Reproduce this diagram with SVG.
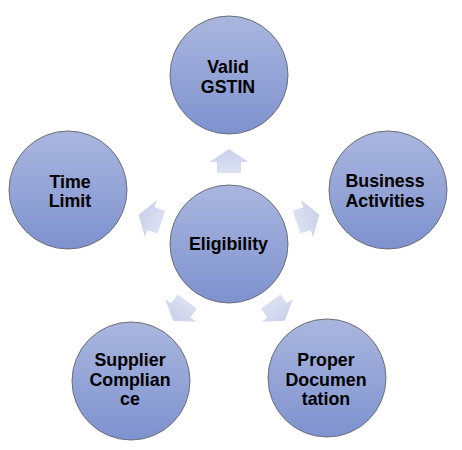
<svg xmlns="http://www.w3.org/2000/svg" width="462" height="450" viewBox="0 0 462 450">
<defs>
<linearGradient id="cg" x1="0" y1="0" x2="0" y2="1">
<stop offset="0" stop-color="#aab6de"/>
<stop offset="1" stop-color="#7e92cf"/>
</linearGradient>
<linearGradient id="ag" x1="0" y1="0" x2="0" y2="1">
<stop offset="0" stop-color="#c9d1ea"/>
<stop offset="1" stop-color="#dbe1f1"/>
</linearGradient>
<polygon id="arr" points="-12,-71 12,-71 12,-82 19.5,-82 0,-95 -19.5,-82 -12,-82" fill="url(#ag)"/>
</defs>
<style>
.c{fill:url(#cg);stroke:#6b6f7a;stroke-width:1}
.t{font-family:"Liberation Sans",Arial,sans-serif;font-weight:bold;font-size:17.8px;fill:#000;text-anchor:middle}
</style>
<rect width="462" height="450" fill="#fff"/>
<g id="connectors">
<use href="#arr" transform="translate(229,244)"/>
<use href="#arr" transform="translate(229,244) rotate(72)"/>
<use href="#arr" transform="translate(229,244) rotate(144)"/>
<use href="#arr" transform="translate(229,244) rotate(216)"/>
<use href="#arr" transform="translate(229,244) rotate(288)"/>
</g>
<g id="n-eligibility"><circle class="c" cx="229" cy="244" r="59"/><text class="t" x="228.5" y="250">Eligibility</text></g>
<g id="n-gstin"><circle class="c" cx="229" cy="75" r="59"/><text class="t" x="228" y="73">Valid</text><text class="t" x="228" y="93">GSTIN</text></g>
<g id="n-business"><circle class="c" cx="388" cy="190" r="59"/><text class="t" x="385" y="187">Business</text><text class="t" x="385" y="207">Activities</text></g>
<g id="n-proper"><circle class="c" cx="327" cy="378" r="59"/><text class="t" x="326" y="366">Proper</text><text class="t" x="326" y="385.5">Documen</text><text class="t" x="326" y="405">tation</text></g>
<g id="n-supplier"><circle class="c" cx="131" cy="381" r="59"/><text class="t" x="130" y="366">Supplier</text><text class="t" x="130" y="385.5">Complian</text><text class="t" x="130" y="405">ce</text></g>
<g id="n-time"><circle class="c" cx="68" cy="190" r="59"/><text class="t" x="70" y="188">Time</text><text class="t" x="70" y="207">Limit</text></g>
</svg>
